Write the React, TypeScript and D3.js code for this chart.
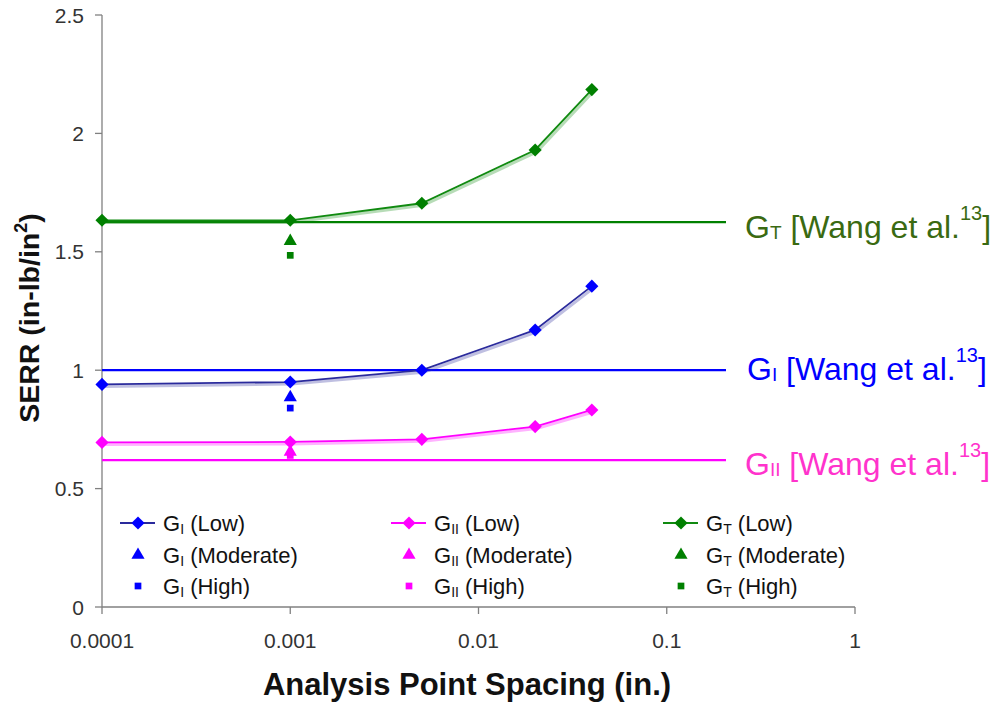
import React from "react";
import * as d3 from "d3";

const spacings = [0.0001, 0.001, 0.005, 0.02, 0.04];
const gILow = [0.94, 0.95, 1.0, 1.17, 1.355];
const gIILow = [0.695, 0.697, 0.708, 0.762, 0.832];
const gTLow = [1.633, 1.633, 1.705, 1.93, 2.185];
const modSpacing = 0.001;
const gIModerate = 0.885;
const gIHigh = 0.84;
const gIIModerate = 0.655;
const gIIHigh = 0.64;
const gTModerate = 1.545;
const gTHigh = 1.485;
const wangGI = 1.0;
const wangGII = 0.62;
const wangGT = 1.625;
const xTicks = [0.0001, 0.001, 0.01, 0.1, 1];
const xTickLabels = ["0.0001", "0.001", "0.01", "0.1", "1"];
const yTicks = [0, 0.5, 1, 1.5, 2, 2.5];

const series = [
  { sub: "I", low: gILow, mod: gIModerate, high: gIHigh, line: "#2a2a9c", mark: "#0000ff", wang: wangGI, wangColor: "#0000ff", labelColor: "#0000ff" },
  { sub: "II", low: gIILow, mod: gIIModerate, high: gIIHigh, line: "#ff00ff", mark: "#ff00ff", wang: wangGII, wangColor: "#ff00ff", labelColor: "#ff33cc" },
  { sub: "T", low: gTLow, mod: gTModerate, high: gTHigh, line: "#108a10", mark: "#008000", wang: wangGT, wangColor: "#008000", labelColor: "#3a6a12" },
];

const x = d3.scaleLog().domain([0.0001, 1]).range([102, 855]);
const y = d3.scaleLinear().domain([0, 2.5]).range([607, 15]);

const diamond = d3.symbol().type(d3.symbolDiamond2).size(110)();
const triangle = d3.symbol().type(d3.symbolTriangle).size(75)();
const square = d3.symbol().type(d3.symbolSquare).size(45)();

const lineGen = d3
  .line<[number, number]>()
  .x((d) => x(d[0]))
  .y((d) => y(d[1]));

const legendCols = [120, 391, 663];
const legendRows = [523, 555, 586];
const legendKinds = ["Low", "Moderate", "High"];
const wangLabelBase = [380, 475, 238];
const wangLabelX = [747, 745, 745];

export default function App() {
  return (
    <svg width={1000} height={707} style={{ position: "absolute", left: 0, top: 0, background: "#fff" }} fontFamily="Liberation Sans, Arial, sans-serif">
      {/* axes */}
      <line x1={x(0.0001)} x2={x(0.0001)} y1={y(2.5)} y2={y(0)} stroke="#808080" strokeWidth={1.3} />
      <line x1={x(0.0001)} x2={x(1)} y1={y(0)} y2={y(0)} stroke="#808080" strokeWidth={1.3} />
      {yTicks.map((t) => (
        <g key={t}>
          <line x1={x(0.0001) - 7} x2={x(0.0001)} y1={y(t)} y2={y(t)} stroke="#808080" strokeWidth={1.3} />
          <text x={84} y={y(t)} dy="0.36em" textAnchor="end" fontSize={21} fill="#333">{t}</text>
        </g>
      ))}
      {xTicks.map((t, i) => (
        <g key={t}>
          <line x1={x(t)} x2={x(t)} y1={y(0)} y2={y(0) + 7} stroke="#808080" strokeWidth={1.3} />
          <text x={x(t)} y={648} textAnchor="middle" fontSize={21} fill="#333">{xTickLabels[i]}</text>
        </g>
      ))}
      <text x={467} y={695} textAnchor="middle" fontSize={31} fontWeight="bold" fill="#111">Analysis Point Spacing (in.)</text>
      <text transform="translate(39,318) rotate(-90)" textAnchor="middle" fontSize={28.5} fontWeight="bold" fill="#111">
        SERR (in-lb/in<tspan fontSize={18} dy={-12}>2</tspan><tspan dy={12}>)</tspan>
      </text>

      {/* Wang reference lines */}
      {series.map((s, i) => (
        <g key={"w" + i}>
          <line x1={x(0.0001)} x2={726} y1={y(s.wang)} y2={y(s.wang)} stroke={s.wangColor} strokeWidth={2.2} />
          <text x={wangLabelX[i]} y={wangLabelBase[i]} fontSize={32} fill={s.labelColor}>
            <tspan>G</tspan>
            <tspan fontSize={19} dy={1}>{s.sub}</tspan>
            <tspan dy={-1}> [Wang et al.</tspan>
            <tspan fontSize={20} dy={-18}>13</tspan>
            <tspan dy={18}>]</tspan>
          </text>
        </g>
      ))}

      {/* series */}
      {series.map((s, i) => {
        const pts = spacings.map((sp, j) => [sp, s.low[j]] as [number, number]);
        return (
          <g key={"s" + i}>
            <path d={lineGen(pts) || ""} fill="none" stroke={s.line} strokeOpacity={0.3} strokeWidth={3} transform="translate(1.5,2)" />
            <path d={lineGen(pts) || ""} fill="none" stroke={s.line} strokeWidth={1.8} />
            <path d={square} fill={s.mark} transform={`translate(${x(modSpacing)},${y(s.high)})`} />
            <path d={triangle} fill={s.mark} transform={`translate(${x(modSpacing)},${y(s.mod)})`} />
            {pts.map((p, j) => (
              <path key={j} d={diamond} fill={s.mark} transform={`translate(${x(p[0])},${y(p[1])})`} />
            ))}
          </g>
        );
      })}

      {/* legend */}
      {series.map((s, i) => (
        <g key={"l" + i}>
          {legendKinds.map((k, r) => (
            <g key={k}>
              {r === 0 && (
                <>
                  <line x1={legendCols[i]} x2={legendCols[i] + 35} y1={legendRows[r]} y2={legendRows[r]} stroke={s.line} strokeWidth={2.2} />
                  <path d={diamond} fill={s.mark} transform={`translate(${legendCols[i] + 18},${legendRows[r]})`} />
                </>
              )}
              {r === 1 && <path d={triangle} fill={s.mark} transform={`translate(${legendCols[i] + 18},${legendRows[r]})`} />}
              {r === 2 && <path d={square} fill={s.mark} transform={`translate(${legendCols[i] + 18},${legendRows[r]})`} />}
              <text x={legendCols[i] + 43} y={legendRows[r]} dy="0.36em" fontSize={22} fill="#111">
                <tspan>G</tspan>
                <tspan fontSize={14} dy={3}>{s.sub}</tspan>
                <tspan dy={-3}>{` (${k})`}</tspan>
              </text>
            </g>
          ))}
        </g>
      ))}
    </svg>
  );
}
